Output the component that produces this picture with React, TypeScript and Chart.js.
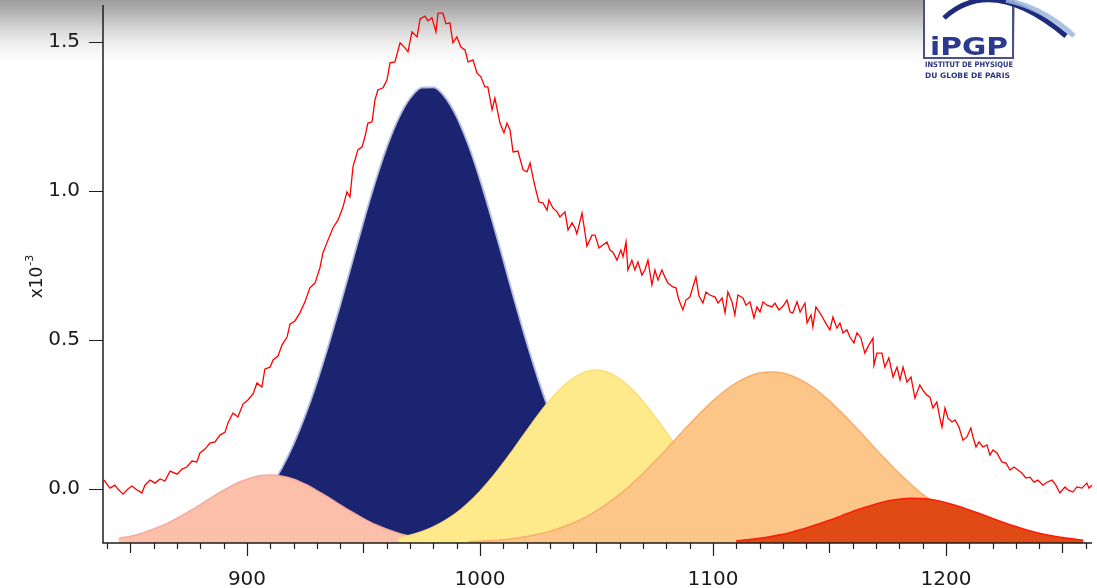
import { useEffect, useRef } from "react";
import { Chart, registerables } from "chart.js";

Chart.register(...registerables);

// Axis ranges (intensity in units of 1e-3, Raman shift in cm-1)
const X_MIN = 838.2;
const X_MAX = 1262.7;
const Y_MIN = -0.181;
const Y_MAX = 1.624;

const xLabelTicks = [900, 1000, 1100, 1200];
const yLabelTicks = [0, 0.5, 1.0, 1.5];

// Measured spectrum [shift, intensity]
const spectrum: [number, number][] = [
  [838.6, 0.030], [841.2, 0.003], [843.3, 0.013], [844.6, 0.000], [846.8, -0.017],
  [848.9, 0.000], [850.6, 0.010], [852.8, -0.003], [854.9, -0.013], [856.2, 0.013],
  [858.4, 0.030], [860.5, 0.020], [862.7, 0.034], [864.8, 0.027], [867.0, 0.060],
  [870.0, 0.050], [872.1, 0.067], [874.2, 0.074], [876.4, 0.094], [878.5, 0.091],
  [879.8, 0.121], [882.0, 0.134], [884.1, 0.154], [886.3, 0.158], [888.4, 0.181],
  [890.6, 0.191], [891.8, 0.221], [894.0, 0.255], [896.1, 0.242], [898.3, 0.285],
  [900.4, 0.299], [902.6, 0.319], [904.3, 0.356], [906.4, 0.342], [907.7, 0.403],
  [909.9, 0.409], [911.2, 0.433], [913.3, 0.446], [915.0, 0.483], [917.2, 0.510],
  [918.5, 0.554], [920.6, 0.564], [922.7, 0.591], [924.9, 0.628], [927.0, 0.675],
  [929.2, 0.691], [931.3, 0.742], [932.6, 0.792], [934.8, 0.836], [936.9, 0.876],
  [939.1, 0.903], [941.2, 0.946], [942.9, 0.997], [944.2, 0.980], [945.5, 1.081],
  [947.6, 1.138], [949.4, 1.148], [950.6, 1.181], [951.9, 1.228], [953.7, 1.232],
  [954.9, 1.305], [956.2, 1.339], [958.4, 1.346], [960.1, 1.373], [961.4, 1.430],
  [963.5, 1.433], [965.7, 1.497], [967.8, 1.480], [969.1, 1.467], [970.8, 1.534],
  [973.0, 1.517], [974.3, 1.577], [976.4, 1.587], [977.7, 1.571], [979.4, 1.581],
  [981.1, 1.534], [982.0, 1.597], [984.1, 1.597], [985.4, 1.561], [987.1, 1.564],
  [988.4, 1.497], [990.1, 1.517], [991.8, 1.483], [993.6, 1.473], [994.9, 1.433],
  [997.0, 1.440], [998.7, 1.396], [1000.4, 1.383], [1002.1, 1.349], [1003.4, 1.349],
  [1005.2, 1.272], [1006.4, 1.312], [1008.6, 1.228], [1010.3, 1.195], [1011.6, 1.228],
  [1012.9, 1.205], [1014.2, 1.131], [1016.3, 1.134], [1018.5, 1.071], [1020.2, 1.064],
  [1021.5, 1.094], [1022.8, 1.044], [1024.0, 1.003], [1025.3, 0.963], [1027.0, 0.960],
  [1028.8, 0.936], [1029.6, 0.970], [1031.3, 0.943], [1033.1, 0.930], [1034.3, 0.913],
  [1036.5, 0.930], [1037.8, 0.869], [1039.5, 0.893], [1040.8, 0.876], [1041.6, 0.856],
  [1043.8, 0.926], [1045.1, 0.859], [1045.9, 0.815], [1048.1, 0.852], [1049.4, 0.852],
  [1051.1, 0.809], [1052.8, 0.819], [1054.5, 0.829], [1055.8, 0.802], [1057.1, 0.795],
  [1058.8, 0.768], [1060.5, 0.802], [1061.4, 0.779], [1062.7, 0.829], [1063.5, 0.735],
  [1065.2, 0.768], [1066.5, 0.735], [1067.8, 0.762], [1069.5, 0.718], [1070.8, 0.735],
  [1072.1, 0.768], [1073.8, 0.685], [1075.1, 0.735], [1076.4, 0.701], [1078.1, 0.735],
  [1079.4, 0.711], [1080.7, 0.691], [1082.8, 0.678], [1084.1, 0.675], [1085.4, 0.634],
  [1087.1, 0.601], [1088.4, 0.634], [1090.1, 0.644], [1091.4, 0.678], [1092.7, 0.711],
  [1094.0, 0.648], [1095.7, 0.624], [1097.0, 0.661], [1098.7, 0.651], [1100.9, 0.644],
  [1102.2, 0.624], [1103.9, 0.641], [1105.2, 0.591], [1106.4, 0.661], [1108.2, 0.628],
  [1109.4, 0.584], [1110.7, 0.651], [1112.9, 0.641], [1114.2, 0.617], [1115.9, 0.628],
  [1117.6, 0.574], [1118.9, 0.611], [1120.2, 0.594], [1121.5, 0.628], [1123.2, 0.617],
  [1125.3, 0.611], [1126.6, 0.624], [1128.3, 0.601], [1130.1, 0.614], [1131.8, 0.634],
  [1133.1, 0.594], [1134.3, 0.591], [1136.1, 0.628], [1137.4, 0.594], [1139.5, 0.624],
  [1140.4, 0.557], [1142.1, 0.584], [1142.9, 0.544], [1144.2, 0.611], [1145.9, 0.591],
  [1147.2, 0.574], [1148.9, 0.550], [1150.2, 0.534], [1151.5, 0.577], [1153.2, 0.540],
  [1154.5, 0.557], [1155.8, 0.524], [1157.5, 0.534], [1158.8, 0.510], [1160.5, 0.490],
  [1161.8, 0.524], [1163.5, 0.507], [1165.2, 0.456], [1166.5, 0.477], [1168.7, 0.507],
  [1169.1, 0.416], [1170.4, 0.456], [1172.5, 0.456], [1173.8, 0.409], [1175.5, 0.440],
  [1177.3, 0.376], [1179.0, 0.409], [1180.3, 0.366], [1181.6, 0.409], [1183.3, 0.359],
  [1185.0, 0.376], [1186.7, 0.305], [1188.8, 0.349], [1190.1, 0.332], [1191.8, 0.315],
  [1193.1, 0.309], [1194.4, 0.272], [1196.1, 0.292], [1197.4, 0.238], [1198.3, 0.208],
  [1199.6, 0.272], [1200.9, 0.238], [1202.6, 0.225], [1203.9, 0.232], [1205.6, 0.208],
  [1207.3, 0.164], [1209.0, 0.175], [1210.7, 0.205], [1211.6, 0.175], [1212.9, 0.141],
  [1214.2, 0.158], [1215.9, 0.141], [1217.6, 0.148], [1218.9, 0.114], [1220.2, 0.131],
  [1221.9, 0.121], [1224.0, 0.091], [1225.8, 0.087], [1227.5, 0.064], [1229.2, 0.074],
  [1230.9, 0.064], [1232.6, 0.054], [1234.3, 0.037], [1236.1, 0.040], [1237.8, 0.023],
  [1239.5, 0.030], [1241.6, 0.013], [1243.4, 0.023], [1245.5, 0.030], [1247.2, 0.013],
  [1248.9, -0.013], [1251.1, 0.007], [1252.4, -0.003], [1254.5, -0.010], [1256.2, 0.007],
  [1258.4, 0.003], [1260.5, 0.020], [1261.4, 0.003], [1262.6, 0.013],
];

// Fitted band components [shift, intensity]
const bandPink: [number, number][] = [
  [845, -0.165], [850, -0.158], [855, -0.148], [860, -0.134], [865, -0.118],
  [870, -0.098], [875, -0.076], [880, -0.052], [885, -0.027], [890, -0.004],
  [895, 0.017], [900, 0.033], [905, 0.044], [910, 0.047], [915, 0.043],
  [920, 0.033], [925, 0.016], [930, -0.005], [935, -0.028], [940, -0.053],
  [945, -0.077], [950, -0.099], [955, -0.119], [960, -0.135], [965, -0.148],
  [970, -0.158], [975, -0.166], [980, -0.171], [985, -0.175],
];

const bandNavy: [number, number][] = [
  [875, -0.169], [880, -0.162], [885, -0.151], [890, -0.136], [895, -0.115],
  [900, -0.085], [905, -0.046], [910, 0.006], [915, 0.071], [920, 0.151],
  [925, 0.247], [930, 0.358], [935, 0.483], [940, 0.617], [945, 0.757],
  [950, 0.897], [955, 1.029], [960, 1.147], [965, 1.243], [970, 1.311],
  [975, 1.347], [980, 1.348], [985, 1.315], [990, 1.249], [995, 1.155],
  [1000, 1.039], [1005, 0.908], [1010, 0.769], [1015, 0.628], [1020, 0.493],
  [1025, 0.368], [1030, 0.256], [1035, 0.158], [1040, 0.077], [1045, 0.011],
  [1050, -0.042], [1055, -0.082], [1060, -0.113], [1065, -0.135], [1070, -0.150],
  [1075, -0.161], [1080, -0.168],
];

const bandYellow: [number, number][] = [
  [965, -0.164], [970, -0.155], [975, -0.143], [980, -0.127], [985, -0.106],
  [990, -0.080], [995, -0.047], [1000, -0.008], [1005, 0.037], [1010, 0.087],
  [1015, 0.140], [1020, 0.195], [1025, 0.249], [1030, 0.298], [1035, 0.340],
  [1040, 0.372], [1045, 0.393], [1050, 0.399], [1055, 0.391], [1060, 0.370],
  [1065, 0.337], [1070, 0.294], [1075, 0.244], [1080, 0.191], [1085, 0.136],
  [1090, 0.083], [1095, 0.033], [1100, -0.012], [1105, -0.050], [1110, -0.082],
  [1115, -0.108], [1120, -0.129], [1125, -0.144], [1130, -0.156], [1135, -0.164],
];

const bandOrange: [number, number][] = [
  [995, -0.177], [1000, -0.175], [1005, -0.173], [1010, -0.170], [1015, -0.165],
  [1020, -0.159], [1025, -0.152], [1030, -0.142], [1035, -0.129], [1040, -0.114],
  [1045, -0.096], [1050, -0.073], [1055, -0.047], [1060, -0.018], [1065, 0.016],
  [1070, 0.052], [1075, 0.092], [1080, 0.133], [1085, 0.176], [1090, 0.218],
  [1095, 0.258], [1100, 0.296], [1105, 0.329], [1110, 0.356], [1115, 0.376],
  [1120, 0.389], [1125, 0.393], [1130, 0.389], [1135, 0.376], [1140, 0.356],
  [1145, 0.329], [1150, 0.296], [1155, 0.258], [1160, 0.218], [1165, 0.176],
  [1170, 0.133], [1175, 0.092], [1180, 0.052], [1185, 0.016], [1190, -0.018],
  [1195, -0.047], [1200, -0.073], [1205, -0.096], [1210, -0.114], [1215, -0.129],
  [1220, -0.142], [1225, -0.152], [1230, -0.159], [1235, -0.165], [1240, -0.170],
  [1245, -0.173], [1250, -0.175], [1255, -0.177],
];

const bandRed: [number, number][] = [
  [1110, -0.174], [1115, -0.170], [1120, -0.165], [1125, -0.159], [1130, -0.152],
  [1135, -0.142], [1140, -0.131], [1145, -0.118], [1150, -0.105], [1155, -0.090],
  [1160, -0.075], [1165, -0.062], [1170, -0.050], [1175, -0.040], [1180, -0.034],
  [1185, -0.031], [1190, -0.032], [1195, -0.037], [1200, -0.046], [1205, -0.057],
  [1210, -0.070], [1215, -0.084], [1220, -0.099], [1225, -0.113], [1230, -0.126],
  [1235, -0.138], [1240, -0.148], [1245, -0.156], [1250, -0.163], [1255, -0.168],
  [1259, -0.172],
];

const toPoints = (pairs: [number, number][]) => pairs.map(([x, y]) => ({ x, y }));

const FONT = "'DejaVu Sans', sans-serif";
const TEXT_COLOR = "#1a1a1a";

// Axis lines, tick marks (minor every 10, medium every 50, major every 100) and y labels
const axesPlugin = {
  id: "axesPlugin",
  afterDatasetsDraw(chart: any) {
    const { ctx, chartArea, scales } = chart;
    const { left, right, top, bottom } = chartArea;
    const xs = scales.x;
    const ys = scales.y;
    ctx.save();
    ctx.strokeStyle = "#1e1e1e";
    ctx.lineWidth = 1.5;
    ctx.beginPath();
    ctx.moveTo(left, top);
    ctx.lineTo(left, bottom);
    ctx.lineTo(right, bottom);
    ctx.stroke();
    ctx.lineWidth = 1.2;
    ctx.beginPath();
    for (let v = Math.ceil(X_MIN / 10) * 10; v <= X_MAX; v += 10) {
      const px = Math.round(xs.getPixelForValue(v)) + 0.5;
      const len = v % 100 === 0 ? 13 : v % 50 === 0 ? 10 : 6;
      ctx.moveTo(px, bottom);
      ctx.lineTo(px, bottom + len);
    }
    for (const v of yLabelTicks) {
      const py = Math.round(ys.getPixelForValue(v)) + 0.5;
      ctx.moveTo(left - 14, py);
      ctx.lineTo(left, py);
    }
    ctx.stroke();
    ctx.fillStyle = TEXT_COLOR;
    ctx.font = `20px ${FONT}`;
    ctx.textAlign = "right";
    ctx.textBaseline = "middle";
    for (const v of yLabelTicks) {
      ctx.fillText(v.toFixed(1), left - 23, ys.getPixelForValue(v));
    }
    ctx.restore();
  },
};

// Rotated y-axis unit label "x10^-3"
const unitPlugin = {
  id: "unitPlugin",
  afterDraw(chart: any) {
    const { ctx, chartArea } = chart;
    const cy = (chartArea.top + chartArea.bottom) / 2 + 3;
    ctx.save();
    ctx.translate(42, cy);
    ctx.rotate(-Math.PI / 2);
    ctx.fillStyle = TEXT_COLOR;
    ctx.textBaseline = "alphabetic";
    ctx.font = `17px ${FONT}`;
    const base = "x10";
    const w1 = ctx.measureText(base).width;
    ctx.font = `11px ${FONT}`;
    const sup = "-3";
    const w2 = ctx.measureText(sup).width;
    const start = -(w1 + w2) / 2;
    ctx.font = `17px ${FONT}`;
    ctx.fillText(base, start, 0);
    ctx.font = `11px ${FONT}`;
    ctx.fillText(sup, start + w1 + 1, -9);
    ctx.restore();
  },
};

function bandDataset(label: string, pairs: [number, number][], fill: string, edge: string, order: number, width = 1.5) {
  return {
    label,
    data: toPoints(pairs),
    borderColor: edge,
    backgroundColor: fill,
    borderWidth: width,
    pointRadius: 0,
    fill: "start",
    cubicInterpolationMode: "monotone" as const,
    order,
  };
}

function RamanChart() {
  const canvasRef = useRef<HTMLCanvasElement | null>(null);

  useEffect(() => {
    const canvas = canvasRef.current;
    if (!canvas) return;
    const chart = new Chart(canvas, {
      type: "line",
      data: {
        datasets: [
          {
            label: "spectrum",
            data: toPoints(spectrum),
            borderColor: "#ff0000",
            borderWidth: 1.3,
            pointRadius: 0,
            fill: false,
            tension: 0,
            order: 0,
          },
          bandDataset("band 1186", bandRed, "#e04b15", "#ff1a0a", 1, 1.6),
          bandDataset("band 1125", bandOrange, "#fdc689", "#f8ae6a", 2),
          bandDataset("band 1050", bandYellow, "#fee98b", "#fcdf78", 3),
          bandDataset("band 910", bandPink, "#fbbfaa", "#f5ab9e", 4),
          bandDataset("band 978", bandNavy, "#1b2470", "#b4bde0", 5, 1.8),
        ] as any,
      },
      options: {
        responsive: false,
        animation: false,
        devicePixelRatio: 1,
        layout: { padding: { top: 5, right: 5, left: 0, bottom: 0 } },
        plugins: {
          legend: { display: false },
          tooltip: { enabled: false },
        },
        scales: {
          x: {
            type: "linear",
            min: X_MIN,
            max: X_MAX,
            afterBuildTicks: (s: any) => {
              s.ticks = xLabelTicks.map((v) => ({ value: v }));
            },
            afterFit: (s: any) => {
              s.height = 45;
            },
            grid: { display: false },
            border: { display: false },
            ticks: {
              color: TEXT_COLOR,
              font: { family: FONT, size: 20 },
              padding: 17,
              maxRotation: 0,
              autoSkip: false,
              callback: (v: any) => String(v),
            },
          },
          y: {
            type: "linear",
            min: Y_MIN,
            max: Y_MAX,
            afterBuildTicks: (s: any) => {
              s.ticks = yLabelTicks.map((v) => ({ value: v }));
            },
            afterFit: (s: any) => {
              s.width = 103;
            },
            grid: { display: false },
            border: { display: false },
            ticks: { display: false },
          },
        },
      },
      plugins: [axesPlugin, unitPlugin],
    });
    return () => chart.destroy();
  }, []);

  return (
    <canvas
      ref={canvasRef}
      width={1097}
      height={588}
      style={{ position: "absolute", left: 0, top: 0, width: 1097, height: 588 }}
    />
  );
}

function Logo() {
  return (
    <svg
      width={197}
      height={90}
      viewBox="0 0 197 90"
      style={{ position: "absolute", left: 900, top: 0 }}
    >
      <rect x={24} y={-2} width={89} height={60} fill="#ffffff" stroke="#4a5088" strokeWidth={2} />
      <path d="M 44 18 Q 92 -26 166 36" fill="none" stroke="#1f2a7c" strokeWidth={5} />
      <path d="M 106 0 Q 144 8 174 36" fill="none" stroke="#9bb8de" strokeWidth={5} opacity={0.85} />
      <text
        x={30}
        y={55}
        fontFamily="'DejaVu Sans', sans-serif"
        fontWeight="bold"
        fontSize={25}
        fill="#2b3990"
        textLength={78}
        lengthAdjust="spacingAndGlyphs"
      >
        iPGP
      </text>
      <text
        x={25}
        y={67}
        fontFamily="'DejaVu Sans', sans-serif"
        fontWeight="bold"
        fontSize={7.5}
        fill="#2d3580"
        textLength={88}
        lengthAdjust="spacingAndGlyphs"
      >
        INSTITUT DE PHYSIQUE
      </text>
      <text
        x={25}
        y={78}
        fontFamily="'DejaVu Sans', sans-serif"
        fontWeight="bold"
        fontSize={7.5}
        fill="#2d3580"
        textLength={85}
        lengthAdjust="spacingAndGlyphs"
      >
        DU GLOBE DE PARIS
      </text>
    </svg>
  );
}

export default function App() {
  return (
    <div
      style={{
        position: "absolute",
        left: 0,
        top: 0,
        width: 1097,
        height: 588,
        overflow: "hidden",
        background: "#ffffff",
      }}
    >
      <div
        style={{
          position: "absolute",
          left: 0,
          top: 0,
          width: 1015,
          height: 66,
          background:
            "linear-gradient(to bottom, #9e9c9d 0px, #b3b2b2 12px, #d6d5d5 28px, #f2f2f2 46px, #ffffff 64px)",
        }}
      />
      <RamanChart />
      <Logo />
    </div>
  );
}
